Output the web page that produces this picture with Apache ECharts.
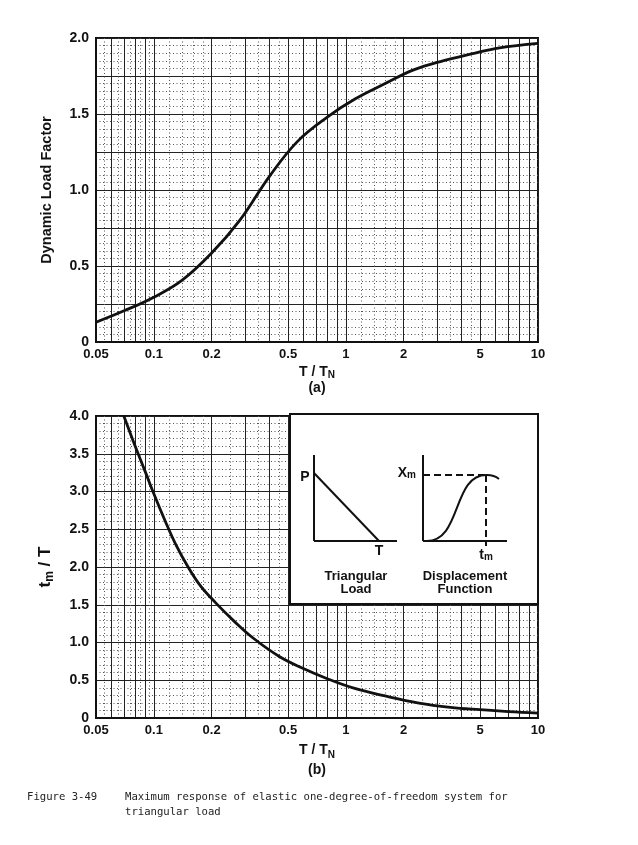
<!DOCTYPE html>
<html><head><meta charset="utf-8">
<script src="https://cdn.jsdelivr.net/npm/echarts@6/dist/echarts.min.js"></script>
<style>html,body{margin:0;padding:0;background:#fff}#c{width:638px;height:845px}</style>
</head><body><div id="c"></div>
<script>
// ---- data ----
const xTickLabels = [0.05, 0.1, 0.2, 0.5, 1, 2, 5, 10];
const xMajorGrid = [0.05,0.06,0.07,0.08,0.09,0.1,0.2,0.3,0.4,0.5,0.6,0.7,0.8,0.9,1,2,3,4,5,6,7,8,9,10];
const xMinorGrid = [0.055,0.065,0.075,0.085,0.095,0.12,0.14,0.16,0.18,0.25,0.35,0.45,1.2,1.4,1.6,1.8,2.5,3.5,4.5];
const dlfYLabels = [0, 0.5, 1, 1.5, 2];
const tmYLabels = [0, 0.5, 1, 1.5, 2, 2.5, 3, 3.5, 4];

// (a) Dynamic load factor vs T/TN
const dlfX = [0.05, 0.07, 0.1, 0.14, 0.2, 0.28, 0.4, 0.56, 0.8, 1.12, 1.6, 2.25, 3.2, 4.5, 6.3, 10];
const dlfY = [0.13, 0.205, 0.295, 0.405, 0.585, 0.80, 1.09, 1.32, 1.48, 1.60, 1.70, 1.79, 1.85, 1.895, 1.935, 1.965];

// (b) tm/T vs T/TN
const tmX = [0.0698, 0.08, 0.09, 0.1, 0.115, 0.13, 0.15, 0.175, 0.21, 0.26, 0.33, 0.45, 0.6, 0.8, 1.1, 1.6, 2.4, 3.5, 5, 7, 10];
const tmY = [4.0, 3.6, 3.27, 2.97, 2.6, 2.3, 2.01, 1.75, 1.525, 1.29, 1.056, 0.815, 0.655, 0.52, 0.395, 0.292, 0.198, 0.142, 0.11, 0.085, 0.065];

// ---- styles ----
const FONT = "'Liberation Sans', Arial, sans-serif";
const INK = '#111';
const solidLine = {show: true, lineStyle: {color: '#222', width: 1, type: 'solid'}};
const dotLine = {show: true, lineStyle: {color: '#555', width: 1, type: [1, 2.5]}};
const labelStyle = {color: INK, fontFamily: FONT, fontWeight: 'bold', fontSize: 13};
const subRich = {
  s: {fontFamily: FONT, fontWeight: 'bold', fontSize: 10, color: INK, verticalAlign: 'bottom', lineHeight: 10, padding: [6, 0, 0, 0]}
};

function mainX(gridIndex, nameTxt, gap, lh) {
  return {
    type: 'log', logBase: 10, gridIndex, min: 0.05, max: 10, position: 'bottom',
    axisLine: {show: true, lineStyle: {color: INK, width: 2}},
    axisTick: {show: false, customValues: xMajorGrid},
    axisLabel: Object.assign({show: true, margin: 6, customValues: xTickLabels,
      formatter: v => String(+v.toPrecision(3))}, labelStyle),
    splitLine: solidLine,
    name: nameTxt, nameLocation: 'middle', nameGap: gap,
    nameTextStyle: {color: INK, fontFamily: FONT, fontWeight: 'bold', fontSize: 14, lineHeight: lh, rich: subRich}
  };
}
function minorX(gridIndex) {
  return {
    type: 'log', logBase: 10, gridIndex, min: 0.05, max: 10, position: 'top',
    axisLine: {show: false}, axisLabel: {show: false},
    axisTick: {show: false, customValues: xMinorGrid},
    splitLine: dotLine
  };
}
function yAx(gridIndex, max, interval, labels, nameTxt, nameSize, gap) {
  return {
    type: 'value', gridIndex, min: 0, max, interval,
    axisLine: {show: true, lineStyle: {color: INK, width: 2}},
    axisTick: {show: false},
    minorTick: {show: false, splitNumber: 5},
    axisLabel: Object.assign({margin: 7, customValues: labels,
      formatter: v => (v === 0 ? '0' : v.toFixed(1))}, labelStyle, {fontSize: 14}),
    splitLine: solidLine,
    minorSplitLine: dotLine,
    name: nameTxt, nameLocation: 'middle', nameGap: gap,
    nameTextStyle: {color: INK, fontFamily: FONT, fontWeight: 'bold', fontSize: nameSize,
      rich: {s: {fontFamily: FONT, fontWeight: 'bold', fontSize: 12, color: INK, verticalAlign: 'bottom', padding: [9, 0, 0, 0]}}}
  };
}

const pairs = (xs, ys) => xs.map((x, i) => [x, ys[i]]);

const gfxZ = 50;
const T = (x, y, text, extra) => ({type: 'text', x, y, z: gfxZ,
  style: Object.assign({text, fill: INK, font: 'bold 13px ' + FONT, align: 'center', verticalAlign: 'middle'}, extra || {})});
const L = (x1, y1, x2, y2, dash) => ({type: 'line', z: gfxZ,
  shape: {x1, y1, x2, y2}, style: {stroke: INK, lineWidth: 2, lineDash: dash || null}});

const option = {
  backgroundColor: '#fff',
  animation: false,
  grid: [
    {left: 96, right: 100, top: 38, height: 304, show: true, borderColor: INK, borderWidth: 2, backgroundColor: '#fff'},
    {left: 96, right: 100, top: 416, height: 302, show: true, borderColor: INK, borderWidth: 2, backgroundColor: '#fff'}
  ],
  xAxis: [
    mainX(0, 'T / T{s|N}\n(a)', 22, 16),
    minorX(0),
    mainX(1, 'T / T{s|N}\n(b)', 22, 20),
    minorX(1)
  ],
  yAxis: [
    yAx(0, 2, 0.25, dlfYLabels, 'Dynamic Load Factor', 14.5, 42),
    yAx(1, 4, 0.5, tmYLabels, 't{s|m} / T', 17, 40)
  ],
  series: [
    {type: 'line', xAxisIndex: 0, yAxisIndex: 0, data: pairs(dlfX, dlfY), smooth: 0.4,
     showSymbol: false, lineStyle: {color: INK, width: 2.8}, z: 5},
    {type: 'line', xAxisIndex: 2, yAxisIndex: 1, data: pairs(tmX, tmY), smooth: 0.4,
     showSymbol: false, lineStyle: {color: INK, width: 2.8}, z: 5}
  ],
  graphic: [
    // inset box
    {type: 'rect', z: gfxZ - 1, shape: {x: 290, y: 414, width: 248, height: 190},
     style: {fill: '#fff', stroke: INK, lineWidth: 2}},
    // triangular load sketch
    L(314, 455, 314, 541), L(314, 541, 397, 541), L(314, 473, 379, 541),
    T(305, 477, 'P', {font: 'bold 14px ' + FONT}),
    T(379, 551, 'T', {font: 'bold 14px ' + FONT}),
    T(356, 576, 'Triangular'), T(356, 589, 'Load'),
    // displacement function sketch
    L(423, 455, 423, 541), L(423, 541, 507, 541),
    L(423, 475, 486, 475, [7, 4]), L(486, 475, 486, 546, [7, 4]),
    {type: 'bezierCurve', z: gfxZ, shape: {x1: 426, y1: 541, cpx1: 462, cpy1: 542, cpx2: 452, cpy2: 474, x2: 487, y2: 475},
     style: {stroke: INK, lineWidth: 2, fill: null}},
    {type: 'bezierCurve', z: gfxZ, shape: {x1: 487, y1: 475, cpx1: 494, cpy1: 475, x2: 499, y2: 479},
     style: {stroke: INK, lineWidth: 2, fill: null}},
    T(416, 473, 'X{s|m}', {align: 'right', font: 'bold 14px ' + FONT, rich: subRich}),
    T(486, 555, 't{s|m}', {font: 'bold 14px ' + FONT, rich: subRich}),
    T(465, 576, 'Displacement'), T(465, 589, 'Function'),
    // caption
    {type: 'text', x: 27, y: 797, style: {text: 'Figure 3-49', fill: '#222', font: '10.6px "DejaVu Sans Mono", monospace', verticalAlign: 'middle'}},
    {type: 'text', x: 125, y: 797, style: {text: 'Maximum response of elastic one-degree-of-freedom system for', fill: '#222', font: '10.6px "DejaVu Sans Mono", monospace', verticalAlign: 'middle'}},
    {type: 'text', x: 125, y: 812, style: {text: 'triangular load', fill: '#222', font: '10.6px "DejaVu Sans Mono", monospace', verticalAlign: 'middle'}}
  ]
};

const chart = echarts.init(document.getElementById('c'), null, {renderer: 'canvas'});
chart.setOption(option);
</script>
</body></html>
